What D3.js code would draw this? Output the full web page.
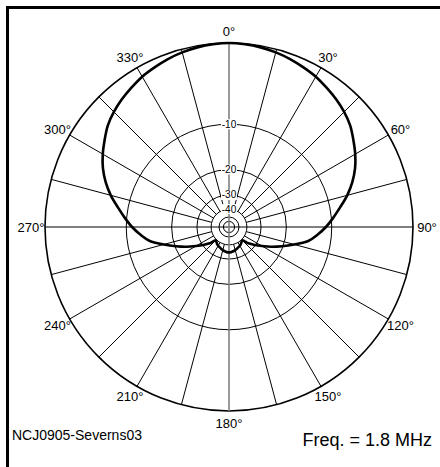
<!DOCTYPE html>
<html>
<head>
<meta charset="utf-8">
<script src="https://cdn.jsdelivr.net/npm/d3@7"></script>
<style>
  html, body { margin: 0; padding: 0; background: #fff; }
  svg { display: block; }
  text { font-family: "Liberation Sans", Arial, sans-serif; fill: #000; }
</style>
</head>
<body>
<div id="chart"></div>
<script>
// azimuth angles (deg) and field pattern (dB, 0 = max)
const angles = [
  0, 5, 10, 15, 20, 25, 30, 35, 40, 45, 50, 55, 60, 65, 70, 75, 80, 85,
  90, 95, 100, 105, 110, 115, 120, 125, 130, 135, 140, 145, 150, 155, 160, 165, 170, 175,
  180, 185, 190, 195, 200, 205, 210, 215, 220, 225, 230, 235, 240, 245, 250, 255, 260, 265,
  270, 275, 280, 285, 290, 295, 300, 305, 310, 315, 320, 325, 330, 335, 340, 345, 350, 355
]
const gainDb = [
  0, -0.05, -0.15, -0.3, -0.5, -0.75, -1.0, -1.35, -1.7, -2.1, -2.6, -3.3, -4.0, -4.8, -5.8, -7.0, -8.4, -9.7,
  -11.0, -12.5, -14.2, -17.2, -20.3, -23.5, -27.0, -30.4, -34.0, -39.0, -38.5, -37.5, -36.8, -36.2, -35.6, -35.0, -34.5, -34.1,
  -34.0, -34.1, -34.5, -35.0, -35.6, -36.2, -36.8, -37.5, -38.5, -39.0, -34.0, -30.4, -27.0, -23.5, -20.3, -17.2, -14.2, -12.5,
  -11.0, -9.7, -8.4, -7.0, -5.8, -4.8, -4.0, -3.3, -2.6, -2.1, -1.7, -1.35, -1.0, -0.75, -0.5, -0.3, -0.15, -0.05
]
const ringDb = [0, -10, -20, -30, -40, -50, -60]
const ringLabels = ['-10', '-20', '-30', '-40']
const spokeAngles = d3.range(0, 360, 15)
const angleLabels = ['0°', '30°', '60°', '90°', '120°', '150°', '180°', '210°', '240°', '270°', '300°', '330°']
const noteLeft = 'NCJ0905-Severns03'
const noteRight = 'Freq. = 1.8 MHz'

const width = 440
const height = 467
const cx = 229
const cy = 227
const R = 184

const svg = d3.select('#chart')
  .append('svg')
  .attr('width', width)
  .attr('height', height)

// ARRL log scale: radius shrinks by 0.89 every 2 dB -> power law on power ratio
const rScale = d3.scalePow()
  .exponent(-5 * Math.log(0.89) / Math.log(10))
  .domain([0, 1])
  .range([0, R])
const r = db => rScale(Math.pow(10, db / 10))
const rad = a => a * Math.PI / 180

// frame (only top and left edges in view)
svg.append('line')
  .attr('x1', 7).attr('y1', 7.5).attr('x2', width).attr('y2', 7.5)
  .attr('stroke', '#000').attr('stroke-width', 3)
svg.append('line')
  .attr('x1', 7.5).attr('y1', 6).attr('x2', 7.5).attr('y2', height)
  .attr('stroke', '#000').attr('stroke-width', 3)

const g = svg.append('g')
  .attr('transform', `translate(${cx},${cy})`)

// spokes
g.append('g')
  .selectAll('line')
  .data(spokeAngles.filter(a => a % 90 !== 0))
  .enter()
  .append('line')
  .attr('x1', a => r(-40) * Math.sin(rad(a)))
  .attr('y1', a => -r(-40) * Math.cos(rad(a)))
  .attr('x2', a => R * Math.sin(rad(a)))
  .attr('y2', a => -R * Math.cos(rad(a)))
  .attr('stroke', '#000')
  .attr('stroke-width', 1)

// horizontal axis
g.append('line')
  .attr('x1', -R).attr('y1', 0).attr('x2', R).attr('y2', 0)
  .attr('stroke', '#000').attr('stroke-width', 1)

// rings
g.append('g')
  .selectAll('circle')
  .data(ringDb)
  .enter()
  .append('circle')
  .attr('r', d => r(d))
  .attr('fill', 'none')
  .attr('stroke', '#000')
  .attr('stroke-width', d => d === 0 ? 1.6 : 1)

// vertical axis (grey)
g.append('line')
  .attr('x1', 0).attr('y1', -R).attr('x2', 0).attr('y2', R)
  .attr('stroke', '#808080').attr('stroke-width', 1.6)

// ring labels with white knock-out
const rl = g.append('g')
  .selectAll('g')
  .data(ringLabels)
  .enter()
  .append('g')
  .attr('transform', d => `translate(0,${-r(+d)})`)
rl.append('rect')
  .attr('x', -8).attr('y', -5).attr('width', 16).attr('height', 10)
  .attr('fill', '#fff')
rl.append('text')
  .attr('text-anchor', 'middle')
  .attr('dy', '0.35em')
  .style('font-size', '10px')
  .text(d => d)

// angle labels
g.append('g')
  .selectAll('text')
  .data(angleLabels)
  .enter()
  .append('text')
  .attr('x', (d, i) => 198 * Math.sin(rad(i * 30)))
  .attr('y', (d, i) => -196 * Math.cos(rad(i * 30)))
  .attr('text-anchor', 'middle')
  .attr('dy', '0.35em')
  .style('font-size', '13px')
  .text(d => d)

// pattern
const line = d3.lineRadial()
  .angle(d => rad(d[0]))
  .radius(d => r(d[1]))
  .curve(d3.curveCatmullRomClosed.alpha(0.5))

g.append('path')
  .datum(angles.map((a, i) => [a, gainDb[i]]))
  .attr('d', line)
  .attr('fill', 'none')
  .attr('stroke', '#000')
  .attr('stroke-width', 2.6)

svg.append('text')
  .attr('x', 12).attr('y', 440)
  .style('font-size', '14px')
  .text(noteLeft)

svg.append('text')
  .attr('x', 432).attr('y', 446)
  .attr('text-anchor', 'end')
  .style('font-size', '18px')
  .text(noteRight)
</script>
</body>
</html>
